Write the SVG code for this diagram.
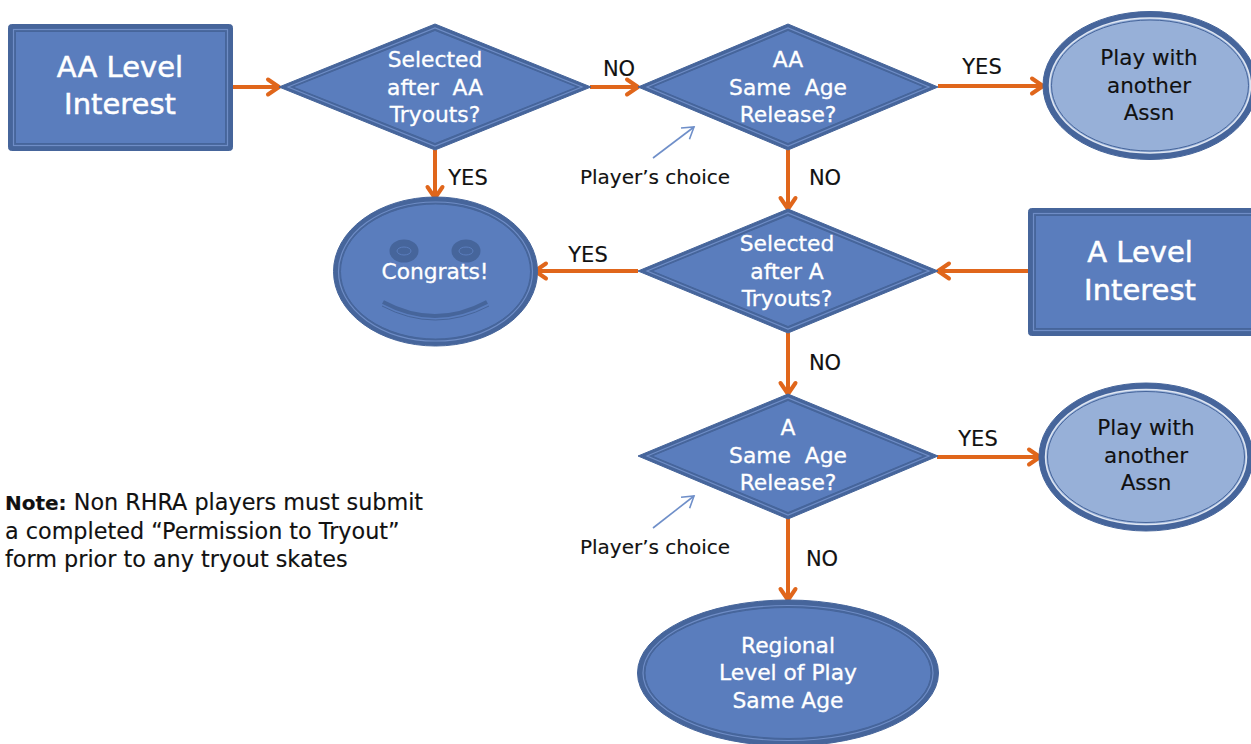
<svg xmlns="http://www.w3.org/2000/svg" width="1251" height="744" viewBox="0 0 1251 744">
<style>
text{font-family:"DejaVu Sans","Liberation Sans",sans-serif;text-anchor:middle;white-space:pre}
.o{fill:#46659b;stroke:#46659b;stroke-width:1;stroke-linejoin:round}
.li{fill:none;stroke:#6f8dc6;stroke-width:1.2}
.i{fill:#5a7dbd;stroke:#46659b;stroke-width:1}
.p{fill:#97b0d8;stroke:#46659b;stroke-width:1}
.w{fill:#fff;font-size:21.800px;stroke:#fff;stroke-width:.3}
.big{fill:#fff;font-size:29px;stroke:#fff;stroke-width:.5}
.k{fill:#111;font-size:21px;stroke:#111;stroke-width:.15}
.d{fill:#111;font-size:21.500px;stroke:#111;stroke-width:.15}
.s{fill:#111;font-size:20px;stroke:#111;stroke-width:.15}
.n{fill:#111;font-size:22.300px;stroke:#111;stroke-width:.15;text-anchor:start}
.c{fill:none;stroke:#e0661b;stroke-width:4;marker-end:url(#a)}
.t{fill:none;stroke:#6f8fc9;stroke-width:1.6;marker-end:url(#b)}
</style>
<defs>
<marker id="a" markerUnits="userSpaceOnUse" markerWidth="20" markerHeight="24" refX="17" refY="12" orient="auto"><path d="M5 4.500L16 12L5 19.500" fill="none" stroke="#e0661b" stroke-width="4" stroke-linecap="round" stroke-linejoin="round"/></marker>
<marker id="b" markerUnits="userSpaceOnUse" markerWidth="20" markerHeight="20" refX="16" refY="10" orient="auto"><path d="M5 3L16 10L5 17" fill="none" stroke="#6f8fc9" stroke-width="1.6"/></marker>
</defs>
<g id="connectors">
<path class="c" d="M230 87H280"/>
<path class="c" d="M590 87H639"/>
<path class="c" d="M938 86H1044"/>
<path class="c" d="M435 150V199"/>
<path class="c" d="M788 150V210"/>
<path class="c" d="M638 271H534"/>
<path class="c" d="M1031 271H937"/>
<path class="c" d="M788 333V395"/>
<path class="c" d="M937 457H1041"/>
<path class="c" d="M788 518V601"/>
<path class="t" d="M653 158L694 127"/>
<path class="t" d="M653 528L694 496"/>
</g>
<g id="aa-level"><rect class="o" x="8.500" y="24.500" width="224" height="126" rx="3"/><rect class="li" x="13.500" y="29.500" width="214" height="116"/><rect class="i" x="15.500" y="31.500" width="210" height="112"/><text class="big" x="120" y="77">AA Level</text><text class="big" x="120" y="114">Interest</text></g>
<g id="selected-aa"><polygon class="o" points="279,87 435,24 591,87 435,150"/><polygon class="li" points="288,87 435,28 582,87 435,146"/><polygon class="i" points="293,87 435,30.500 577,87 435,143.500"/><text class="w" x="435" y="67">Selected</text><text class="w" x="435" y="95">after  AA</text><text class="w" x="435" y="122">Tryouts?</text></g>
<g id="aa-release"><polygon class="o" points="638,87 788,24 938,87 788,150"/><polygon class="li" points="647,87 788,28 929,87 788,146"/><polygon class="i" points="652,87 788,30.500 924,87 788,143.500"/><text class="w" x="788" y="67">AA</text><text class="w" x="788" y="95">Same  Age</text><text class="w" x="788" y="122">Release?</text></g>
<g id="play-1"><ellipse class="o" cx="1150" cy="85.500" rx="107" ry="74"/><ellipse class="p" cx="1150" cy="85.500" rx="100.500" ry="67.500" style="stroke:#dfe6f2;stroke-width:1.500"/><ellipse class="p" cx="1150" cy="85.500" rx="98.500" ry="65.500"/><text class="d" x="1149" y="65">Play with</text><text class="d" x="1149" y="93">another</text><text class="d" x="1149" y="120">Assn</text></g>
<g id="congrats"><ellipse class="o" cx="435.500" cy="271.500" rx="102" ry="74.500"/><ellipse class="li" cx="435.500" cy="271.500" rx="97" ry="69.500"/><ellipse class="i" cx="435.500" cy="271.500" rx="95" ry="67.500"/><ellipse cx="404" cy="251" rx="14.500" ry="11.500" fill="#46659b"/><ellipse cx="404" cy="251" rx="7" ry="4" fill="none" stroke="#5a7dbd"/><ellipse cx="466" cy="251" rx="14.500" ry="11.500" fill="#46659b"/><ellipse cx="466" cy="251" rx="7" ry="4" fill="none" stroke="#5a7dbd"/><path d="M383 302Q435 330 487 302" fill="none" stroke="#46659b" stroke-width="4"/><path d="M382 306Q435 334 489 306" fill="none" stroke="#46659b" stroke-width="1"/><text class="w" x="435" y="279">Congrats!</text></g>
<g id="selected-a"><polygon class="o" points="638,271 788,209 938,271 788,333"/><polygon class="li" points="647,271 788,213 929,271 788,329"/><polygon class="i" points="652,271 788,215.500 924,271 788,326.500"/><text class="w" x="787" y="251">Selected</text><text class="w" x="787" y="279">after A</text><text class="w" x="787" y="306">Tryouts?</text></g>
<g id="a-level"><rect class="o" x="1028.500" y="208.500" width="240" height="127" rx="3"/><rect class="li" x="1033.500" y="213.500" width="230" height="117"/><rect class="i" x="1035.500" y="215.500" width="226" height="113"/><text class="big" x="1140" y="262">A Level</text><text class="big" x="1140" y="300">Interest</text></g>
<g id="a-release"><polygon class="o" points="638,456 788,394 938,456 788,519"/><polygon class="li" points="647,456 788,398 929,456 788,515"/><polygon class="i" points="652,456 788,400.500 924,456 788,512.500"/><text class="w" x="788" y="435">A</text><text class="w" x="788" y="463">Same  Age</text><text class="w" x="788" y="490">Release?</text></g>
<g id="play-2"><ellipse class="o" cx="1146" cy="457" rx="107" ry="74"/><ellipse class="p" cx="1146" cy="457" rx="100.500" ry="67.500" style="stroke:#dfe6f2;stroke-width:1.500"/><ellipse class="p" cx="1146" cy="457" rx="98.500" ry="65.500"/><text class="d" x="1146" y="435">Play with</text><text class="d" x="1146" y="463">another</text><text class="d" x="1146" y="490">Assn</text></g>
<g id="regional"><ellipse class="o" cx="788" cy="673" rx="150.500" ry="73"/><ellipse class="li" cx="788" cy="673" rx="145" ry="67.500"/><ellipse class="i" cx="788" cy="673" rx="143" ry="65.500"/><text class="w" x="788" y="653">Regional</text><text class="w" x="788" y="680">Level of Play</text><text class="w" x="788" y="708">Same Age</text></g>
<g id="labels">
<text class="k" x="619" y="76">NO</text>
<text class="k" x="982" y="74">YES</text>
<text class="k" x="468" y="185">YES</text>
<text class="k" x="825" y="185">NO</text>
<text class="k" x="588" y="262">YES</text>
<text class="k" x="825" y="370">NO</text>
<text class="k" x="978" y="446">YES</text>
<text class="k" x="822" y="566">NO</text>
<text class="s" x="655" y="184">Player’s choice</text>
<text class="s" x="655" y="554">Player’s choice</text>
<text class="n" x="5" y="510"><tspan font-weight="bold" font-size="20">Note:</tspan> Non RHRA players must submit</text>
<text class="n" x="5" y="539">a completed “Permission to Tryout”</text>
<text class="n" x="5" y="567">form prior to any tryout skates</text>
</g>
</svg>
